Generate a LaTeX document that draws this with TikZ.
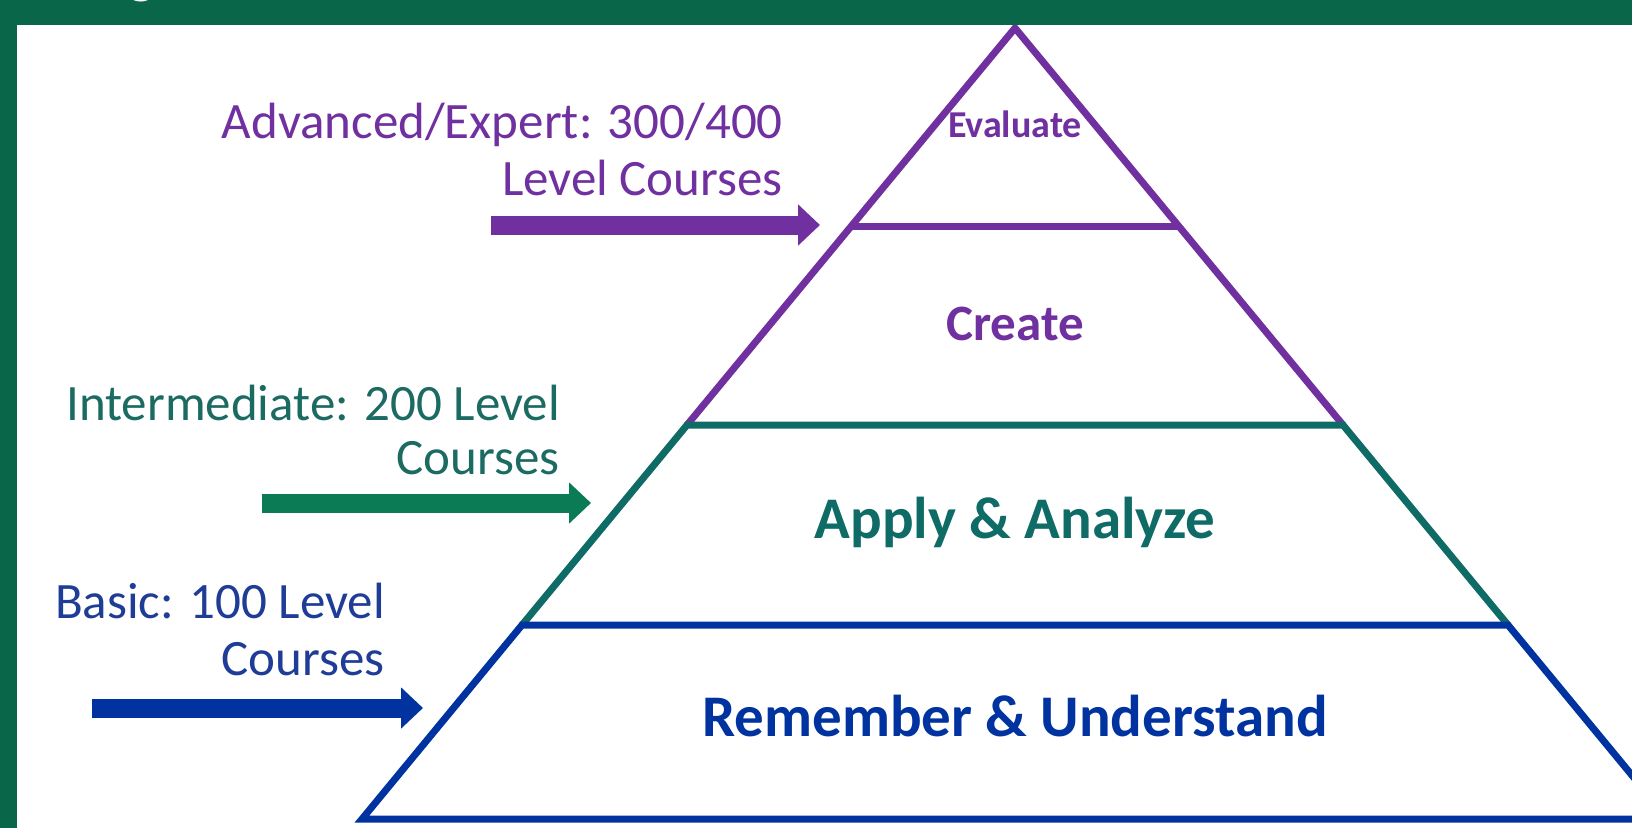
\documentclass[tikz,border=0pt]{standalone}
\usepackage{fontspec}
\setmainfont{Carlito}
\usetikzlibrary{arrows.meta}
\definecolor{bggreen}{HTML}{0A6649}
\definecolor{lvpurple}{HTML}{7030A0}
\definecolor{lvteal}{HTML}{0E6B66}
\definecolor{lvgreen}{HTML}{0A7B55}
\definecolor{lvblue}{HTML}{0033A0}
\definecolor{lbteal}{HTML}{1B6B62}
\definecolor{lbblue}{HTML}{1F3C96}
\tikzset{
  pyredge/.style={line width=7pt, line join=miter, line cap=butt},
  lab/.style={inner sep=0pt, anchor=base east, font=\fontsize{51}{57}\selectfont},
  tier/.style={inner sep=0pt, anchor=base, font=\bfseries\fontsize{59}{64}\selectfont},
  bigarrow/.style={line width=19pt, -{Triangle[length=22pt,width=40pt]}},
}
\begin{document}
\begin{tikzpicture}[x=1pt,y=-1pt]
\useasboundingbox (0,0) rectangle (1632,828);
\fill[bggreen] (0,0) rectangle (1632,828);
\fill[white] (17,25) rectangle (1632,828);
\begin{scope}
\clip (0,0) rectangle (1632,25);
\node[inner sep=0pt, anchor=base, text=white, font=\bfseries\fontsize{56}{60}\selectfont] (titleg) at (142,-8) {g};
\end{scope}
% pyramid coordinates
\coordinate (apex) at (1015,28);
\coordinate (evalL) at (851.5,226);
\coordinate (evalR) at (1178.5,226);
\coordinate (creL) at (687,425);
\coordinate (creR) at (1343,425);
\coordinate (remL) at (522,625);
\coordinate (remR) at (1508,625);
\coordinate (baseL) at (362,819);
\coordinate (baseR) at (1668,819);
\begin{scope}
\clip (17,25) rectangle (1632,828);
\draw[pyredge, lvpurple] (creL) -- (apex) -- (creR);
\draw[pyredge, lvpurple] (evalL) -- (evalR);
\draw[pyredge, lvteal] (remL) -- (creL) -- (creR) -- (remR);
\draw[pyredge, lvblue] (remR) -- (remL) -- (baseL) -- (baseR) -- cycle;
\end{scope}
% tier texts
\node[tier, text=lvpurple, font=\bfseries\fontsize{38}{42}\selectfont] (evaluate) at (1015,137) {Evaluate};
\node[tier, text=lvpurple, font=\bfseries\fontsize{51}{56}\selectfont] (create) at (1015,340) {Create};
\node[tier, text=lvteal] (apply) at (1015,538) {Apply \& Analyze};
\node[tier, text=lvblue] (remember) at (1015,736) {Remember \& Understand};
% level labels
\node[lab, text=lvpurple] (adv1) at (783,138) {Advanced/Expert: 300/400};
\node[lab, text=lvpurple] (adv2) at (783,195) {Level Courses};
\node[lab, text=lbteal] (int1) at (560,420) {Intermediate: 200 Level};
\node[lab, text=lbteal] (int2) at (560,474) {Courses};
\node[lab, text=lbblue] (bas1) at (385,618) {Basic: 100 Level};
\node[lab, text=lbblue] (bas2) at (385,675) {Courses};
% arrows
\coordinate (advS) at (491,225);
\coordinate (advE) at (820,225);
\coordinate (intS) at (262,503);
\coordinate (intE) at (591,503);
\coordinate (basS) at (92,708);
\coordinate (basE) at (423,708);
\draw[bigarrow, lvpurple] (advS) -- (advE);
\draw[bigarrow, lvgreen] (intS) -- (intE);
\draw[bigarrow, lvblue] (basS) -- (basE);
\end{tikzpicture}
\end{document}
